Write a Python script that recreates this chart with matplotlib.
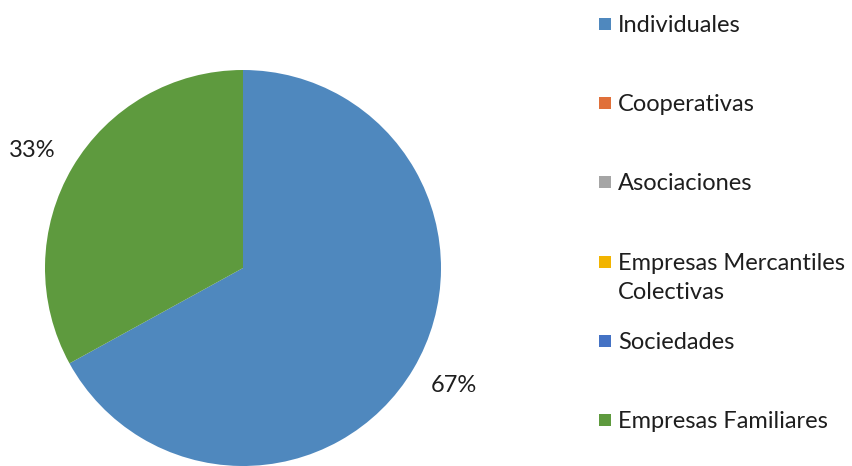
import matplotlib
matplotlib.use("Agg")
import numpy as np
import matplotlib.pyplot as plt
from matplotlib.patches import Rectangle

categories = ["Individuales", "Cooperativas", "Asociaciones",
              "Empresas Mercantiles\nColectivas", "Sociedades", "Empresas Familiares"]
values = [67, 0, 0, 0, 0, 33]
colors = ["#4F88BE", "#E0703A", "#A5A5A5", "#F2B400", "#4472C4", "#5E9A3E"]

W, H = 852, 466
fig = plt.figure(figsize=(W / 100, H / 100), dpi=100)
plt.rcParams['font.family'] = ['Lato', 'DejaVu Sans']
text_color = "#1E1E1E"

cx, cy, r = 243, 268, 198
ax = fig.add_axes([(cx - r) / W, (H - cy - r) / H, 2 * r / W, 2 * r / H])
wedges, texts, autotexts = ax.pie(
    values, colors=colors, startangle=90, counterclock=False, radius=1,
    autopct=lambda p: f"{p:.0f}%" if p > 0 else "", pctdistance=1.22,
    textprops=dict(fontsize=17, color=text_color),
    wedgeprops=dict(linewidth=0))
# nudge labels slightly counter-clockwise, as in the reference
rot = np.deg2rad(1.5)
for t in autotexts:
    x, y = t.get_position()
    t.set_position((x * np.cos(rot) - y * np.sin(rot), x * np.sin(rot) + y * np.cos(rot)))
ax.set_xlim(-1, 1)
ax.set_ylim(-1, 1)
ax.set_aspect('equal')
ax.axis('off')

# legend, entries on a uniform grid (baselines in pixels from top)
b0, step, line_gap = 32, 79.2, 29
for i, (lab, col) in enumerate(zip(categories, colors)):
    base = b0 + i * step
    mc = base - 8
    fig.patches.append(Rectangle((599 / W, 1 - (mc + 6) / H), 12 / W, 12 / H,
                                 transform=fig.transFigure, facecolor=col,
                                 edgecolor='none'))
    for k, line in enumerate(lab.split("\n")):
        fig.text(618 / W, 1 - (base + k * line_gap) / H, line, fontsize=17,
                 color=text_color, ha='left', va='baseline')

fig.savefig("out.png", dpi=100)
